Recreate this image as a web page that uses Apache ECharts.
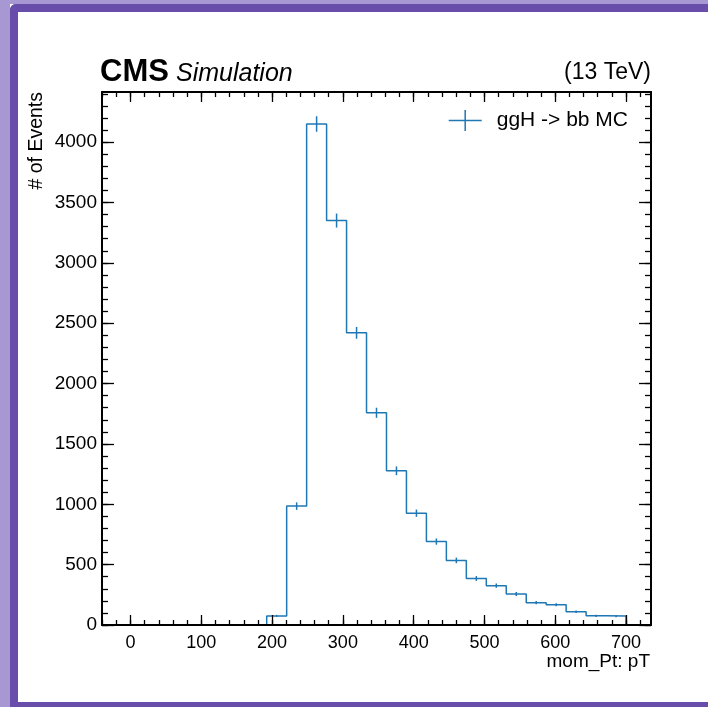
<!DOCTYPE html>
<html>
<head>
<meta charset="utf-8">
<style>
  html, body { margin: 0; padding: 0; background: #fff; }
  #chart { width: 708px; height: 707px; }
</style>
<script src="https://cdn.jsdelivr.net/npm/echarts@6/dist/echarts.min.js"></script>
</head>
<body>
<div id="chart"></div>
<script>
// histogram binning (25 bins from -5 to 700)
const binLo = -5;
const binHi = 700;
const nBins = 25;

// bin contents
const counts = [0, 0, 0, 0, 0, 0, 0, 75, 985, 4150, 3350, 2420, 1758, 1277, 926, 691, 535, 385, 326, 257, 185, 168, 110, 76, 74];
// statistical errors (error bar half heights)
const errors = [0, 0, 0, 0, 0, 0, 0, 9, 31, 64, 58, 49, 42, 36, 30, 26, 23, 20, 18, 16, 14, 13, 10, 9, 9];

// tick labels
const xTicks = [0, 100, 200, 300, 400, 500, 600, 700];
const yTicks = [0, 500, 1000, 1500, 2000, 2500, 3000, 3500, 4000];

const seriesName = 'ggH -> bb MC';
const lineColor = '#1f77b4';
const font = '"Liberation Sans", Arial, sans-serif';

// axis ranges
const xMin = -40.25, xMax = 735.25;
const yMin = 0, yMax = 4415;

// minor tick positions
const xMinor = [];
for (let v = -40; v <= 735; v += 20) xMinor.push(v);
const yMinor = [];
for (let v = 0; v <= 4400; v += 100) yMinor.push(v);

// bin edges and step points
const width = (binHi - binLo) / nBins;
const edges = [];
for (let i = 0; i <= nBins; i++) edges.push(binLo + i * width);
const stepData = counts.map((c, i) => [edges[i], c]);
stepData.push([binHi, 0]);
const errData = counts.map((c, i) => [(edges[i] + edges[i + 1]) / 2, c, errors[i]]).filter(d => d[1] > 0);

const chart = echarts.init(document.getElementById('chart'));

// axis builder
const makeAxis = (type, position, ticks, length, showLine, showLabel, min, max) => ({
  type: 'value',
  position,
  min,
  max,
  z: 10,
  axisLine: { show: showLine, onZero: false, lineStyle: { color: '#000', width: 2 } },
  axisTick: { show: true, inside: true, length, customValues: ticks, lineStyle: { color: '#000', width: 1.3 } },
  axisLabel: showLabel
    ? {
        show: true,
        customValues: ticks,
        formatter: v => String(v),
        color: '#000',
        fontSize: type === 'x' ? 18 : 19,
        fontFamily: font,
        margin: type === 'x' ? 9 : 5
      }
    : { show: false },
  splitLine: { show: false }
});

chart.setOption({
  animation: false,
  backgroundColor: '#fff',
  grid: { left: 102, top: 92, width: 549, height: 533 },
  xAxis: [
    makeAxis('x', 'bottom', xTicks, 10, true, true, xMin, xMax),
    makeAxis('x', 'bottom', xMinor, 5, false, false, xMin, xMax),
    makeAxis('x', 'top', xTicks, 10, true, false, xMin, xMax),
    makeAxis('x', 'top', xMinor, 5, false, false, xMin, xMax)
  ],
  yAxis: [
    makeAxis('y', 'left', yTicks, 12, true, true, yMin, yMax),
    makeAxis('y', 'left', yMinor, 6, false, false, yMin, yMax),
    makeAxis('y', 'right', yTicks, 12, true, false, yMin, yMax),
    makeAxis('y', 'right', yMinor, 6, false, false, yMin, yMax)
  ],
  legend: {
    right: 80,
    top: 110,
    padding: 0,
    itemWidth: 33,
    itemHeight: 21,
    data: [{ name: seriesName, icon: 'path://M0,9.75h33v1.5h-33z M15.75,0h1.5v21h-1.5z' }],
    textStyle: { fontSize: 21, fontFamily: font, color: '#000', padding: [0, 0, 0, 10] }
  },
  series: [
    {
      name: seriesName,
      type: 'line',
      step: 'end',
      symbol: 'none',
      color: lineColor,
      lineStyle: { color: lineColor, width: 1.5 },
      data: stepData
    },
    {
      name: seriesName,
      type: 'custom',
      color: lineColor,
      renderItem: (params, api) => {
        const x = api.value(0);
        const y = api.value(1);
        const e = api.value(2);
        const p1 = api.coord([x, y - e]);
        const p2 = api.coord([x, y + e]);
        return {
          type: 'line',
          shape: { x1: p1[0], y1: p1[1], x2: p2[0], y2: p2[1] },
          style: { stroke: lineColor, lineWidth: 1.5 }
        };
      },
      data: errData
    }
  ],
  graphic: [
    // purple frame
    { type: 'rect', shape: { x: 0, y: 0, width: 10, height: 707 }, style: { fill: '#a797d3' }, silent: true },
    { type: 'rect', shape: { x: 0, y: 0, width: 708, height: 4 }, style: { fill: '#a797d3' }, silent: true },
    { type: 'rect', shape: { x: 10, y: 4, width: 698, height: 8, r: [6, 0, 0, 0] }, style: { fill: '#684eaa' }, silent: true },
    { type: 'rect', shape: { x: 10, y: 4, width: 8, height: 703, r: [6, 0, 0, 0] }, style: { fill: '#684eaa' }, silent: true },
    { type: 'rect', shape: { x: 10, y: 702, width: 698, height: 5 }, style: { fill: '#684eaa' }, silent: true },
    // header texts
    { type: 'text', left: 100, top: 57, style: { text: 'CMS', font: 'bold 31px ' + font, fill: '#000' } },
    { type: 'text', left: 176, top: 62, style: { text: 'Simulation', font: 'italic 25px ' + font, fill: '#000' } },
    { type: 'text', right: 57, top: 61, style: { text: '(13 TeV)', font: '23px ' + font, fill: '#000', textAlign: 'right' } },
    // axis titles
    { type: 'text', right: 58, top: 652, style: { text: 'mom_Pt: pT', font: '19px ' + font, fill: '#000' } },
    { type: 'text', x: 27, y: 92, rotation: Math.PI / 2, style: { text: '# of Events', font: '19.5px ' + font, fill: '#000', textAlign: 'right', textVerticalAlign: 'top' } }
  ]
});
</script>
</body>
</html>
